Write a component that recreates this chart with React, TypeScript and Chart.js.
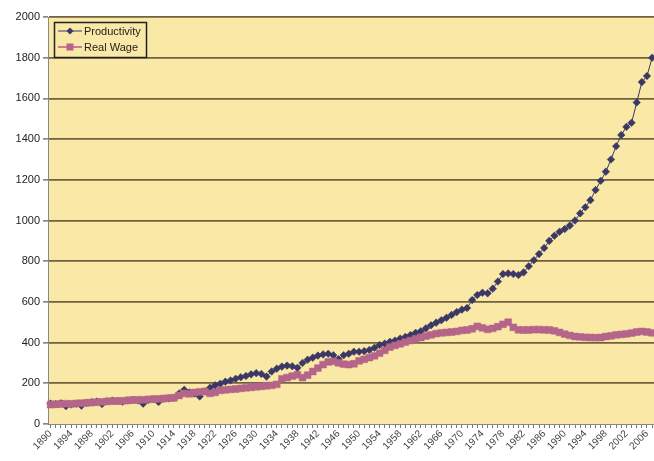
import React, { useEffect, useRef } from "react";
import { Chart, registerables } from "chart.js";

Chart.register(...registerables);

const years = [
  1890, 1891, 1892, 1893, 1894, 1895, 1896, 1897, 1898, 1899,
  1900, 1901, 1902, 1903, 1904, 1905, 1906, 1907, 1908, 1909,
  1910, 1911, 1912, 1913, 1914, 1915, 1916, 1917, 1918, 1919,
  1920, 1921, 1922, 1923, 1924, 1925, 1926, 1927, 1928, 1929,
  1930, 1931, 1932, 1933, 1934, 1935, 1936, 1937, 1938, 1939,
  1940, 1941, 1942, 1943, 1944, 1945, 1946, 1947, 1948, 1949,
  1950, 1951, 1952, 1953, 1954, 1955, 1956, 1957, 1958, 1959,
  1960, 1961, 1962, 1963, 1964, 1965, 1966, 1967, 1968, 1969,
  1970, 1971, 1972, 1973, 1974, 1975, 1976, 1977, 1978, 1979,
  1980, 1981, 1982, 1983, 1984, 1985, 1986, 1987, 1988, 1989,
  1990, 1991, 1992, 1993, 1994, 1995, 1996, 1997, 1998, 1999,
  2000, 2001, 2002, 2003, 2004, 2005, 2006, 2007,
];

const productivity = [
  100, 98, 102, 88, 96, 100, 90, 104, 108, 110,
  98, 112, 115, 113, 110, 116, 118, 116, 100, 118,
  122, 108, 124, 126, 128, 150, 168, 155, 150, 135,
  160, 178, 190, 198, 208, 214, 222, 230, 236, 244,
  250, 246, 233, 258, 272, 282, 287, 284, 276, 300,
  316, 326, 336, 342, 345, 338, 318, 338, 345, 355,
  355, 358, 364, 375, 388, 395, 404, 410, 420, 428,
  437, 448, 456, 470, 485, 498, 510, 522, 536, 550,
  562, 570, 609, 634, 645, 642, 665, 700, 737, 740,
  737, 732, 745, 775, 805, 835, 865, 900, 925, 945,
  958, 975, 1000, 1035, 1065, 1100, 1150, 1195, 1240, 1300,
  1365, 1420, 1460, 1480, 1580, 1680, 1710, 1800,
];

const realWage = [
  95, 97, 98, 100, 99, 101, 102, 104, 105, 107,
  109, 111, 112, 113, 114, 116, 118, 119, 119, 121,
  122, 123, 125, 127, 129, 140, 150, 148, 155, 158,
  160, 150, 155, 165, 168, 170, 172, 175, 178, 180,
  183, 185, 188, 190, 195, 222, 228, 235, 242, 228,
  240, 258, 275, 292, 305, 308, 300, 294, 292, 296,
  310, 318, 326, 335, 348, 362, 378, 386, 394, 402,
  410, 418, 425, 432, 438, 444, 448, 450, 452, 455,
  460, 462, 468, 480, 472, 465, 470, 478, 490, 500,
  475, 463, 462, 462, 464, 464, 463, 462, 458, 450,
  442, 435, 430, 428, 426, 425, 424, 425, 430, 433,
  438, 440, 443, 447, 452, 455, 452, 448,
];

const seriesNames = ["Productivity", "Real Wage"];
const yMin = 0;
const yMax = 2000;
const yStep = 200;
const labelEvery = 4;

const PLOT_BG = "#F9E8A6";
const GRID = "#71623F";
const PROD_COLOR = "#3B3866";
const WAGE_COLOR = "#B5658A";
const FONT = '"Liberation Sans", Arial, sans-serif';

const CANVAS_W = 660;
const CANVAS_H = 461;

export default function App() {
  const ref = useRef<HTMLCanvasElement>(null);

  useEffect(() => {
    if (!ref.current) return;

    const bgPlugin = {
      id: "plotBg",
      beforeDraw(chart: any) {
        const { ctx, chartArea: a } = chart;
        ctx.save();
        ctx.fillStyle = PLOT_BG;
        ctx.fillRect(a.left, a.top, a.right - a.left, a.bottom - a.top);
        ctx.restore();
      },
    };

    const legendPlugin = {
      id: "customLegend",
      afterDraw(chart: any) {
        const ctx = chart.ctx as CanvasRenderingContext2D;
        const bx = 54.5, by = 22.5, bw = 92, bh = 35;
        ctx.save();
        ctx.fillStyle = PLOT_BG;
        ctx.fillRect(bx, by, bw, bh);
        ctx.strokeStyle = "#222";
        ctx.lineWidth = 1.5;
        ctx.strokeRect(bx, by, bw, bh);

        const items = [
          { name: seriesNames[0], color: PROD_COLOR, y: 31, style: "diamond", lw: 1 },
          { name: seriesNames[1], color: WAGE_COLOR, y: 47, style: "square", lw: 1.6 },
        ];
        ctx.font = `11px ${FONT}`;
        ctx.textBaseline = "middle";
        items.forEach((it) => {
          ctx.strokeStyle = it.color;
          ctx.lineWidth = it.lw;
          ctx.beginPath();
          ctx.moveTo(58, it.y);
          ctx.lineTo(82, it.y);
          ctx.stroke();
          ctx.fillStyle = it.color;
          ctx.beginPath();
          if (it.style === "diamond") {
            ctx.moveTo(70, it.y - 3.5);
            ctx.lineTo(73.5, it.y);
            ctx.lineTo(70, it.y + 3.5);
            ctx.lineTo(66.5, it.y);
            ctx.closePath();
          } else {
            ctx.rect(66.5, it.y - 3.5, 7, 7);
          }
          ctx.fill();
          ctx.fillStyle = "#222";
          ctx.fillText(it.name, 84, it.y + 0.5);
        });
        ctx.restore();
      },
    };

    const chart = new Chart(ref.current, {
      type: "line",
      data: {
        labels: years.map(String),
        datasets: [
          {
            label: seriesNames[0],
            data: productivity,
            borderColor: PROD_COLOR,
            backgroundColor: PROD_COLOR,
            borderWidth: 1,
            pointStyle: "rectRot",
            pointRadius: 3.8,
            pointBorderWidth: 0.5,
            pointBackgroundColor: PROD_COLOR,
            pointBorderColor: PROD_COLOR,
            tension: 0,
            order: 1,
          },
          {
            label: seriesNames[1],
            data: realWage,
            borderColor: WAGE_COLOR,
            backgroundColor: WAGE_COLOR,
            borderWidth: 2,
            pointStyle: "rect",
            pointRadius: 4.8,
            pointBorderWidth: 0.5,
            pointBackgroundColor: WAGE_COLOR,
            pointBorderColor: WAGE_COLOR,
            tension: 0,
            order: 0,
          },
        ],
      },
      options: {
        responsive: false,
        animation: false,
        events: [],
        layout: { padding: { top: 17, right: 0, left: 0, bottom: 0 } },
        plugins: {
          legend: { display: false },
          tooltip: { enabled: false },
          title: { display: false },
        },
        scales: {
          x: {
            type: "category",
            offset: true,
            grid: {
              drawOnChartArea: false,
              drawTicks: true,
              tickLength: 4,
              tickColor: "#777",
              offset: false,
            },
            border: { display: true, color: "#888", width: 1 },
            ticks: {
              autoSkip: false,
              maxRotation: 45,
              minRotation: 45,
              padding: 0,
              color: "#444",
              font: { family: FONT, size: 10 },
              callback: (_v: any, i: number) =>
                (years[i] - years[0]) % labelEvery === 0 ? String(years[i]) : "",
            },
            afterFit: (scale: any) => {
              scale.height = 37;
              scale.paddingRight = 0;
              scale.paddingLeft = 0;
            },
          },
          y: {
            min: yMin,
            max: yMax,
            ticks: {
              stepSize: yStep,
              color: "#222",
              padding: 3,
              font: { family: FONT, size: 11 },
              callback: (v: any) => String(v),
            },
            grid: {
              color: (c: any) => (c.tick && c.tick.value === 0 ? "rgba(0,0,0,0)" : GRID),
              lineWidth: 1.7,
              tickLength: 5,
              tickColor: "#888",
            },
            border: { display: true, color: "#888", width: 1 },
            afterFit: (scale: any) => {
              scale.width = 48;
            },
          },
        },
      },
      plugins: [bgPlugin, legendPlugin],
    });

    return () => chart.destroy();
  }, []);

  return (
    <div
      style={{
        position: "absolute",
        left: 0,
        top: 0,
        width: 654,
        height: 461,
        overflow: "hidden",
        background: "#fff",
      }}
    >
      <canvas ref={ref} width={CANVAS_W} height={CANVAS_H} style={{ display: "block" }} />
    </div>
  );
}
